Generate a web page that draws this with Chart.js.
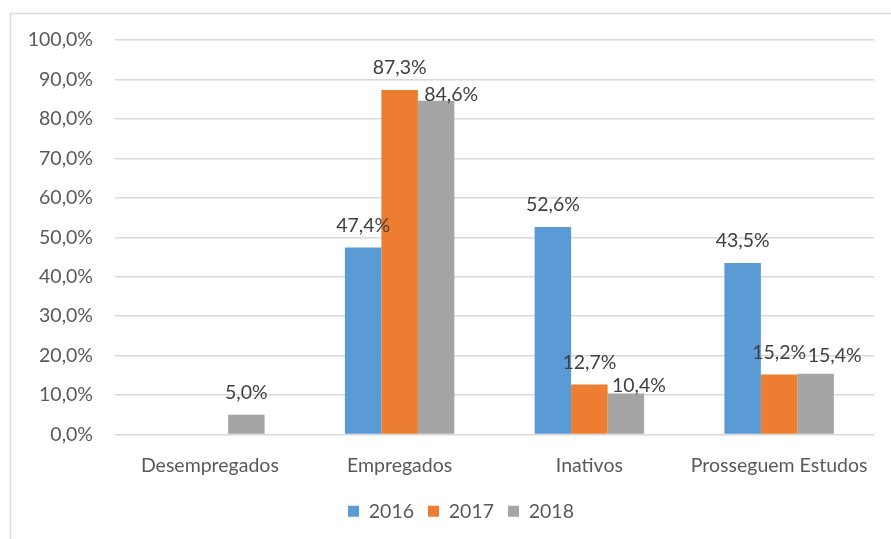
<!DOCTYPE html>
<html>
<head>
<meta charset="utf-8">
<script src="https://cdn.jsdelivr.net/npm/chart.js@4"></script>
<style>
  html, body { margin: 0; padding: 0; background: #fff; overflow: hidden; }
  #wrap { position: relative; width: 922px; height: 539px; }
</style>
</head>
<body>
<div id="wrap"><canvas id="chart_situacao"></canvas></div>
<script>
const categories = ["Desempregados", "Empregados", "Inativos", "Prosseguem Estudos"];
const years = ["2016", "2017", "2018"];
const values2016 = [null, 47.4, 52.6, 43.5];
const values2017 = [null, 87.3, 12.7, 15.2];
const values2018 = [5.0, 84.6, 10.4, 15.4];
const colors = ["#5B9BD5", "#ED7D31", "#A5A5A5"];

const fontFamily = "Lato, 'Open Sans', sans-serif";
const fmt = v => v.toFixed(1).replace('.', ',') + '%';

// some labels were dragged aside in the original (dataset index -> category index -> [dx, dy])
const labelNudge = { 2: { 1: [15, 16], 2: [13, 14], 3: [19, 4] } };

const borderPlugin = {
  id: 'outerBorder',
  beforeDraw(chart) {
    const c = chart.ctx;
    c.save();
    c.strokeStyle = '#d9d9d9';
    c.lineWidth = 1.5;
    c.strokeRect(10.5, 13.5, 1000, 1000);
    c.restore();
  }
};

const valueLabels = {
  id: 'valueLabels',
  afterDatasetsDraw(chart) {
    const c = chart.ctx;
    c.save();
    c.font = "19.5px " + fontFamily;
    c.fillStyle = '#404040';
    c.textAlign = 'center';
    c.textBaseline = 'middle';
    chart.data.datasets.forEach((ds, di) => {
      chart.getDatasetMeta(di).data.forEach((bar, i) => {
        const v = ds.data[i];
        if (v === null) return;
        const n = (labelNudge[di] && labelNudge[di][i]) || [0, 0];
        c.fillText(fmt(v), bar.x + n[0], bar.y - 22 + n[1]);
      });
    });
    c.restore();
  }
};

const config_situacao = {
  type: 'bar',
  data: {
    labels: categories,
    datasets: [
      { label: years[0], data: values2016, backgroundColor: colors[0] },
      { label: years[1], data: values2017, backgroundColor: colors[1] },
      { label: years[2], data: values2018, backgroundColor: colors[2] }
    ]
  },
  options: {
    responsive: true,
    maintainAspectRatio: false,
    animation: false,
    layout: { padding: { top: 40, right: 0, bottom: 8, left: 0 } },
    datasets: { bar: { categoryPercentage: 0.577, barPercentage: 1.0 } },
    scales: {
      x: {
        grid: { display: false },
        border: { display: false },
        ticks: { color: '#595959', font: { family: fontFamily, size: 19.5 }, padding: 12 },
        afterFit(scale) { scale.height = 53; }
      },
      y: {
        min: 0, max: 100,
        grid: { color: '#d9d9d9', lineWidth: 1.5, drawTicks: false },
        border: { display: false },
        ticks: {
          stepSize: 10,
          color: '#595959',
          font: { family: fontFamily, size: 19.5 },
          padding: 22,
          callback: v => fmt(v)
        },
        afterFit(scale) { scale.width = 115; }
      },
      // empty spacer so the plot ends where the original does
      yRight: {
        position: 'right',
        grid: { display: false },
        border: { display: false },
        ticks: { display: false },
        afterFit(scale) { scale.width = 48; }
      }
    },
    plugins: {
      legend: {
        position: 'bottom',
        labels: {
          boxWidth: 11, boxHeight: 11,
          padding: 14,
          color: '#595959',
          font: { family: fontFamily, size: 19.5 }
        }
      },
      tooltip: { enabled: false }
    }
  },
  plugins: [borderPlugin, valueLabels]
};

const ctx_situacao = document.getElementById('chart_situacao').getContext('2d');
const myChart_situacao = new Chart(ctx_situacao, config_situacao);
</script>
</body>
</html>
